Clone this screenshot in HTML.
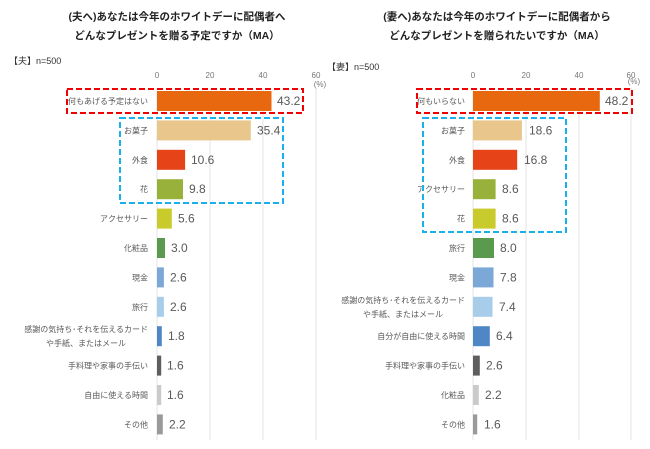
<!DOCTYPE html>
<html><head><meta charset="utf-8"><style>
body{margin:0;background:#fff}
svg{display:block;font-family:"Liberation Sans","Noto Sans CJK JP",sans-serif}
.t{font-size:10.5px;font-weight:bold;fill:#222;text-anchor:middle}
.l{font-size:8px;fill:#595959;text-anchor:end}
.v{font-size:12px;fill:#595959}
.k{font-size:8px;fill:#777;text-anchor:middle}
.g{stroke:#e3e3e3;stroke-width:1}
</style></head><body>
<svg width="650" height="449" viewBox="0 0 650 449">
<text class="t" x="177" y="20">(夫へ)あなたは今年のホワイトデーに配偶者へ</text>
<text class="t" x="177" y="39">どんなプレゼントを贈る予定ですか（MA）</text>
<text class="t" x="497" y="20">(妻へ)あなたは今年のホワイトデーに配偶者から</text>
<text class="t" x="497" y="39">どんなプレゼントを贈られたいですか（MA）</text>
<text x="9" y="64" style="font-size:9px;fill:#333">【夫】n=500</text>
<text x="327" y="70" style="font-size:9px;fill:#333">【妻】n=500</text>
<g>
<line class="g" x1="157" y1="88" x2="157" y2="440"/><line class="g" x1="210" y1="88" x2="210" y2="440"/><line class="g" x1="263" y1="88" x2="263" y2="440"/><line class="g" x1="316" y1="88" x2="316" y2="440"/>
<text class="k" x="157" y="78">0</text><text class="k" x="210" y="78">20</text><text class="k" x="263" y="78">40</text><text class="k" x="316" y="78">60</text><text class="k" x="320" y="87">(%)</text>
</g>
<g>
<line class="g" x1="473" y1="88" x2="473" y2="440"/><line class="g" x1="526" y1="88" x2="526" y2="440"/><line class="g" x1="579" y1="88" x2="579" y2="440"/><line class="g" x1="631" y1="88" x2="631" y2="440"/>
<text class="k" x="473" y="78">0</text><text class="k" x="526" y="78">20</text><text class="k" x="579" y="78">40</text><text class="k" x="631" y="78">60</text><text class="k" x="634" y="84">(%)</text>
</g>
<g>
<rect x="157" y="91" width="114.5" height="20" fill="#E8680F"/><text class="v" x="277" y="105">43.2</text><text class="l" x="148" y="104">何もあげる予定はない</text>
<rect x="157" y="120.4" width="93.8" height="20" fill="#E9C78C"/><text class="v" x="257" y="134.4">35.4</text><text class="l" x="148" y="133.4">お菓子</text>
<rect x="157" y="149.8" width="28.1" height="20" fill="#E64318"/><text class="v" x="191" y="163.8">10.6</text><text class="l" x="148" y="162.8">外食</text>
<rect x="157" y="179.2" width="26" height="20" fill="#97B13A"/><text class="v" x="189" y="193.2">9.8</text><text class="l" x="148" y="192.2">花</text>
<rect x="157" y="208.6" width="14.8" height="20" fill="#C9CB2C"/><text class="v" x="178" y="222.6">5.6</text><text class="l" x="148" y="221.6">アクセサリー</text>
<rect x="157" y="238" width="8" height="20" fill="#5A9A4F"/><text class="v" x="171" y="252">3.0</text><text class="l" x="148" y="251">化粧品</text>
<rect x="157" y="267.4" width="6.9" height="20" fill="#7BA8D6"/><text class="v" x="170" y="281.4">2.6</text><text class="l" x="148" y="280.4">現金</text>
<rect x="157" y="296.8" width="6.9" height="20" fill="#A7CDEB"/><text class="v" x="170" y="310.8">2.6</text><text class="l" x="148" y="309.8">旅行</text>
<rect x="157" y="326.2" width="4.8" height="20" fill="#4F86C6"/><text class="v" x="168" y="340.2">1.8</text><text class="l" x="148" y="332">感謝の気持ち･それを伝えるカード</text><text class="l" x="126" y="346">や手紙、またはメール</text>
<rect x="157" y="355.6" width="4.2" height="20" fill="#5E5E5E"/><text class="v" x="167" y="369.6">1.6</text><text class="l" x="148" y="368.6">手料理や家事の手伝い</text>
<rect x="157" y="385" width="4.2" height="20" fill="#CACACA"/><text class="v" x="167" y="399">1.6</text><text class="l" x="148" y="398">自由に使える時間</text>
<rect x="157" y="414.4" width="5.8" height="20" fill="#9A9A9A"/><text class="v" x="169" y="428.4">2.2</text><text class="l" x="148" y="427.4">その他</text>
</g>
<g>
<rect x="473" y="91" width="126.8" height="20" fill="#E8680F"/><text class="v" x="605" y="105">48.2</text><text class="l" x="465" y="104">何もいらない</text>
<rect x="473" y="120.4" width="48.9" height="20" fill="#E9C78C"/><text class="v" x="529" y="134.4">18.6</text><text class="l" x="465" y="133.4">お菓子</text>
<rect x="473" y="149.8" width="44.2" height="20" fill="#E64318"/><text class="v" x="524" y="163.8">16.8</text><text class="l" x="465" y="162.8">外食</text>
<rect x="473" y="179.2" width="22.6" height="20" fill="#97B13A"/><text class="v" x="502" y="193.2">8.6</text><text class="l" x="465" y="192.2">アクセサリー</text>
<rect x="473" y="208.6" width="22.6" height="20" fill="#C9CB2C"/><text class="v" x="502" y="222.6">8.6</text><text class="l" x="465" y="221.6">花</text>
<rect x="473" y="238" width="21" height="20" fill="#5A9A4F"/><text class="v" x="500" y="252">8.0</text><text class="l" x="465" y="251">旅行</text>
<rect x="473" y="267.4" width="20.5" height="20" fill="#7BA8D6"/><text class="v" x="500" y="281.4">7.8</text><text class="l" x="465" y="280.4">現金</text>
<rect x="473" y="296.8" width="19.5" height="20" fill="#A7CDEB"/><text class="v" x="499" y="310.8">7.4</text><text class="l" x="465" y="303">感謝の気持ち･それを伝えるカード</text><text class="l" x="443" y="317">や手紙、またはメール</text>
<rect x="473" y="326.2" width="16.8" height="20" fill="#4F86C6"/><text class="v" x="496" y="340.2">6.4</text><text class="l" x="465" y="339.2">自分が自由に使える時間</text>
<rect x="473" y="355.6" width="6.8" height="20" fill="#5E5E5E"/><text class="v" x="486" y="369.6">2.6</text><text class="l" x="465" y="368.6">手料理や家事の手伝い</text>
<rect x="473" y="385" width="5.8" height="20" fill="#CACACA"/><text class="v" x="485" y="399">2.2</text><text class="l" x="465" y="398">化粧品</text>
<rect x="473" y="414.4" width="4.2" height="20" fill="#9A9A9A"/><text class="v" x="484" y="428.4">1.6</text><text class="l" x="465" y="427.4">その他</text>
</g>
<g fill="none" stroke-width="2" stroke-dasharray="6,3">
<rect x="67" y="89" width="236" height="24" stroke="#F00000"/>
<rect x="120" y="118" width="163" height="85" stroke="#1AB0EC"/>
<rect x="417" y="89" width="215" height="24" stroke="#F00000"/>
<rect x="423" y="118" width="143" height="114" stroke="#1AB0EC"/>
</g>
</svg>
</body></html>
